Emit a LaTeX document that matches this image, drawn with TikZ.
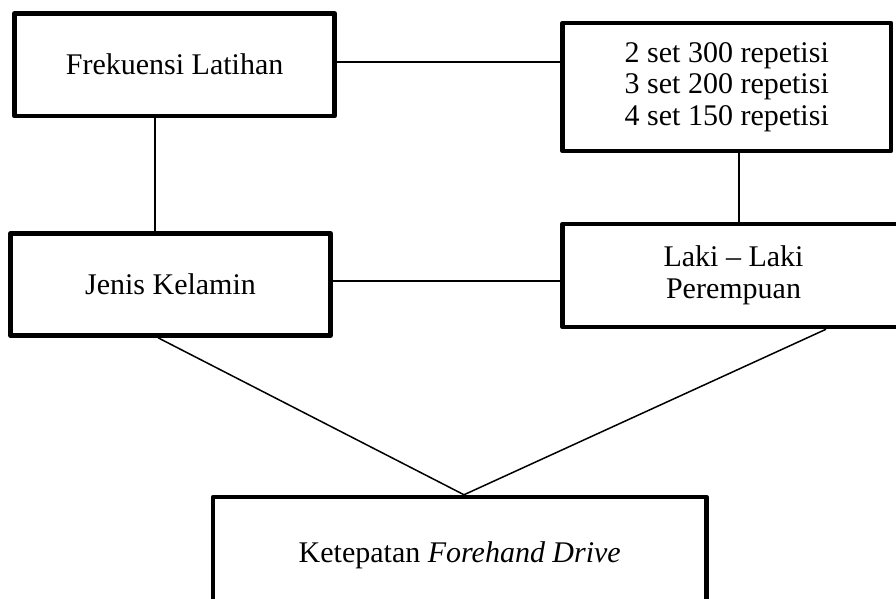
\documentclass[tikz,border=0pt]{standalone}
\usepackage{fontspec}
\setmainfont{Liberation Serif}
\begin{document}
\begin{tikzpicture}[x=1pt,y=-1pt,
  box/.style={draw, line width=4.5pt, line join=round, inner sep=0pt, align=center,
    font=\fontsize{30}{31.5}\selectfont},
  conn/.style={line width=1.5pt}]
\useasboundingbox (0,0) rectangle (896,598);
\clip (0,0) rectangle (896,598);
\fill[white] (0,0) rectangle (896,598);
\node[box, minimum width=320pt, minimum height=102.7pt] (b1) at (174.6,64.7) {Frekuensi Latihan};
\node[box, minimum width=328.5pt, minimum height=128pt] (b2) at (726.75,87)
  {2 set 300 repetisi\\3 set 200 repetisi\\4 set 150 repetisi};
\node[box, minimum width=320pt, minimum height=102pt] (b3) at (170.5,284.5) {Jenis Kelamin};
\node[box, minimum width=342pt, minimum height=103pt] (b4) at (733.5,275.5)
  {Laki -- Laki\\Perempuan};
\node[box, minimum width=493.5pt, minimum height=116pt] (b5) at (459.75,555)
  {Ketepatan \textit{Forehand Drive}};
\coordinate (h1) at (0,62);
\coordinate (h2) at (0,281);
\coordinate (v1) at (155,0);
\coordinate (v2) at (739,0);
\coordinate (d1) at (158,0);
\coordinate (d2) at (826,0);
\coordinate (ap) at (464,0);
\draw[conn] (b1.east |- h1) -- (b2.west |- h1);
\draw[conn] (b1.south -| v1) -- (b3.north -| v1);
\draw[conn] (b2.south -| v2) -- (b4.north -| v2);
\draw[conn] (b3.east |- h2) -- (b4.west |- h2);
\draw[conn] (b3.south -| d1) -- (b5.north -| ap);
\draw[conn] (b4.south -| d2) -- (b5.north -| ap);
\end{tikzpicture}
\end{document}
